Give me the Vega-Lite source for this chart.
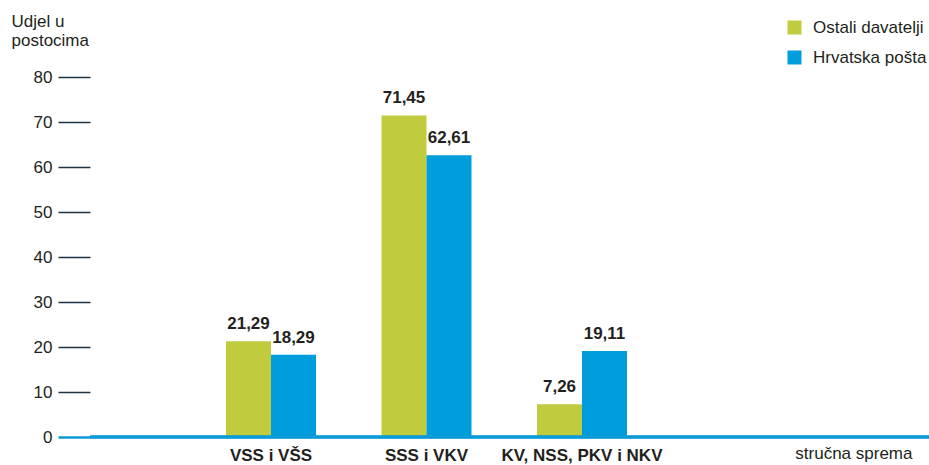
{
  "$schema": "https://vega.github.io/schema/vega-lite/v6.json",
  "width": 839,
  "height": 360,
  "autosize": {"type": "none"},
  "padding": {"left": 90, "top": 77, "right": 0, "bottom": 28},
  "background": "white",
  "config": {
    "locale": {"number": {"decimal": ",", "thousands": ".", "grouping": [3], "currency": ["", " €"]}},
    "font": "Liberation Sans",
    "view": {"stroke": null}
  },
  "data": {
    "values": [
      {"sprema": "VSS i VŠS", "davatelj": "Ostali davatelji", "udjel": 21.29},
      {"sprema": "VSS i VŠS", "davatelj": "Hrvatska pošta", "udjel": 18.29},
      {"sprema": "SSS i VKV", "davatelj": "Ostali davatelji", "udjel": 71.45},
      {"sprema": "SSS i VKV", "davatelj": "Hrvatska pošta", "udjel": 62.61},
      {"sprema": "KV, NSS, PKV i NKV", "davatelj": "Ostali davatelji", "udjel": 7.26},
      {"sprema": "KV, NSS, PKV i NKV", "davatelj": "Hrvatska pošta", "udjel": 19.11}
    ]
  },
  "layer": [
    {
      "encoding": {
        "x": {
          "field": "sprema", "type": "nominal", "sort": null,
          "scale": {"range": [136, 537], "paddingInner": 0.4212, "paddingOuter": 0},
          "axis": {
            "title": "stručna sprema", "titleFont": "Liberation Sans", "titleFontSize": 17, "titleFontWeight": "normal",
            "titleColor": "#231f20", "titleX": 822, "titleY": 21, "titleAlign": "right", "titleBaseline": "alphabetic", "titleAnchor": null,
            "labelAngle": 0, "labelFontSize": 17, "labelFontWeight": "bold", "labelColor": "#231f20", "labelPadding": 10,
            "ticks": false, "domain": false, "grid": false
          }
        },
        "xOffset": {"field": "davatelj", "type": "nominal", "sort": ["Ostali davatelji", "Hrvatska pošta"], "scale": {"paddingInner": 0, "paddingOuter": 0}},
        "y": {
          "field": "udjel", "type": "quantitative",
          "scale": {"domain": [0, 80], "nice": false},
          "axis": {
            "values": [0, 10, 20, 30, 40, 50, 60, 70, 80],
            "title": ["Udjel u", "postocima"], "titleAngle": 0, "titleX": -79, "titleY": -51, "titleAlign": "left", "titleBaseline": "alphabetic",
            "titleFontSize": 17, "titleFontWeight": "normal", "titleColor": "#231f20", "titleLineHeight": 19,
            "domain": false, "grid": false, "tickSize": 32,
            "tickColor": {"condition": {"test": "datum.value === 0", "value": "#0d9ad8"}, "value": "#1f3344"},
            "tickWidth": {"condition": {"test": "datum.value === 0", "value": 2.6}, "value": 1.3},
            "labelFontSize": 17, "labelColor": "#231f20", "labelPadding": 6
          }
        },
        "color": {
          "field": "davatelj", "type": "nominal", "sort": ["Ostali davatelji", "Hrvatska pošta"],
          "scale": {"domain": ["Ostali davatelji", "Hrvatska pošta"], "range": ["#c0cb3d", "#009ddc"]},
          "legend": {
            "title": null, "orient": "none", "legendX": 696, "legendY": -58,
            "symbolType": "square", "symbolSize": 196, "symbolStrokeWidth": 0, "symbolOpacity": 1,
            "labelFontSize": 17, "labelColor": "#231f20", "labelOffset": 10, "rowPadding": 12, "padding": 0
          }
        }
      },
      "layer": [
        {"mark": {"type": "bar", "width": {"band": 1}}},
        {
          "mark": {"type": "text", "dy": -12, "baseline": "alphabetic", "fontSize": 17, "fontWeight": "bold", "color": "#231f20"},
          "encoding": {"text": {"field": "udjel", "type": "quantitative", "format": ".2f"}, "color": {"value": "#231f20"}}
        }
      ]
    },
    {
      "mark": {"type": "rule", "color": "#0d9ad8", "strokeWidth": 2.6},
      "encoding": {"y": {"datum": 0}}
    }
  ]
}
